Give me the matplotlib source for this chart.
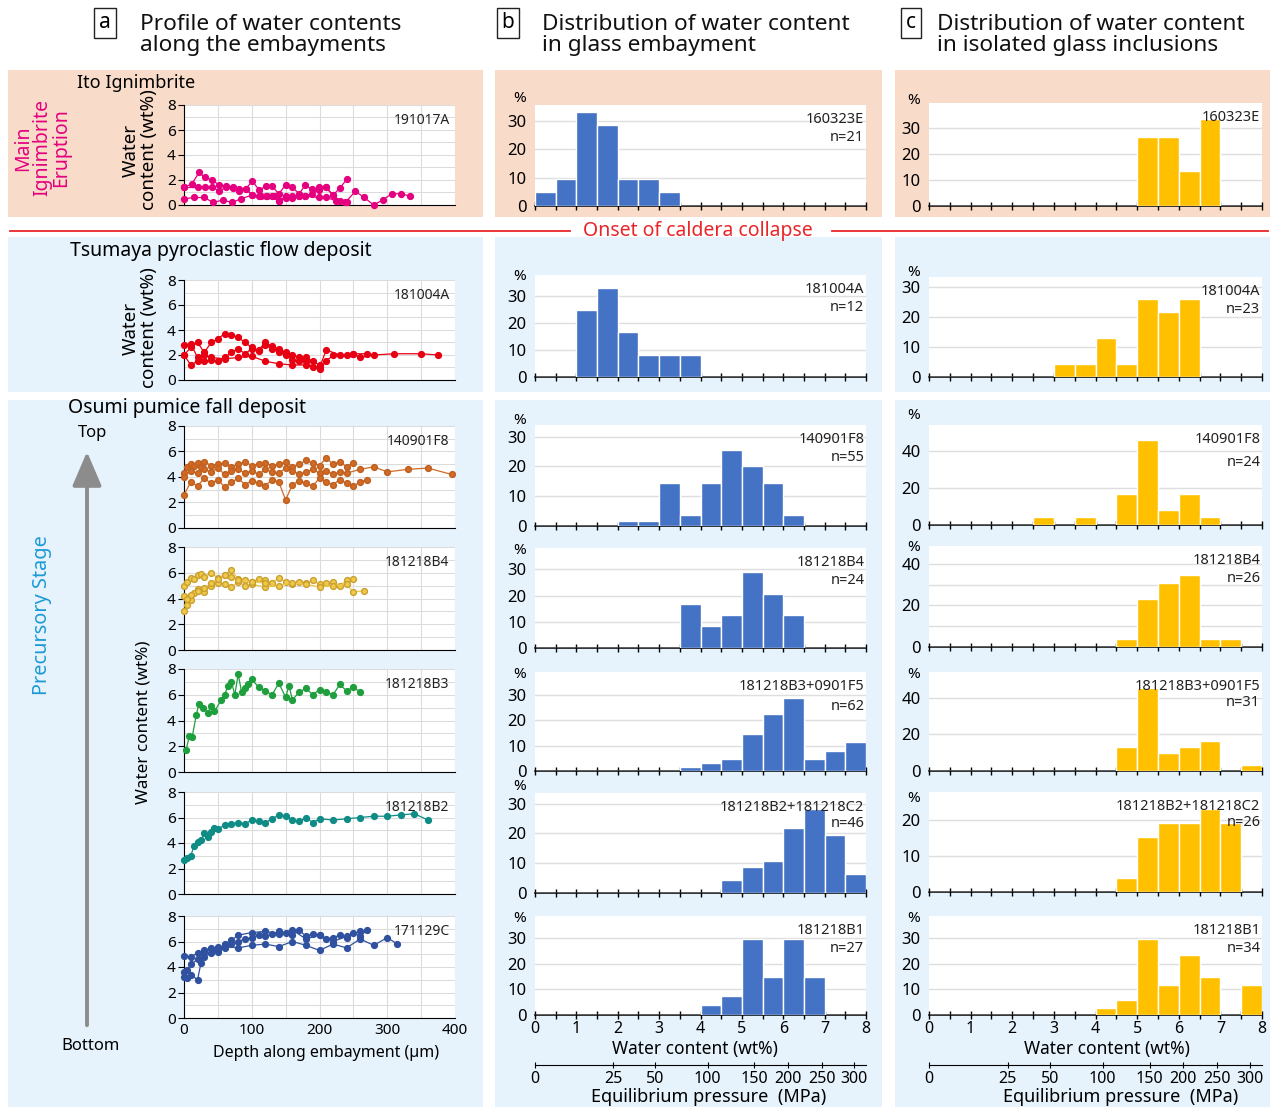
import numpy as np
import matplotlib
matplotlib.use('Agg')
import matplotlib.pyplot as plt
from matplotlib.patches import Rectangle, FancyArrowPatch

plt.rcParams['font.family'] = ['Noto Sans', 'DejaVu Sans']

# ---------------- DATA ----------------
bin_left = np.arange(0, 8, 0.5)  # 16 histogram bins of 0.5 wt%

# column b : glass embayments (%)
emb_160323E = [4.8, 9.5, 33.3, 28.6, 9.5, 9.5, 4.8, 0, 0, 0, 0, 0, 0, 0, 0, 0]
emb_181004A = [0, 0, 25.0, 33.3, 16.7, 8.3, 8.3, 8.3, 0, 0, 0, 0, 0, 0, 0, 0]
emb_140901F8 = [0, 0, 0, 0, 1.8, 1.8, 14.5, 3.6, 14.5, 25.5, 20.0, 14.5, 3.6, 0, 0, 0]
emb_181218B4 = [0, 0, 0, 0, 0, 0, 0, 16.7, 8.3, 12.5, 29.2, 20.8, 12.5, 0, 0, 0]
emb_181218B3 = [0, 0, 0, 0, 0, 0, 0, 1.6, 3.2, 4.8, 14.5, 22.6, 29.0, 4.8, 8.1, 11.3]
emb_181218B2 = [0, 0, 0, 0, 0, 0, 0, 0, 0, 4.3, 8.7, 10.9, 21.7, 28.3, 19.6, 6.5]
emb_181218B1 = [0, 0, 0, 0, 0, 0, 0, 0, 3.7, 7.4, 29.6, 14.8, 29.6, 14.8, 0, 0]

# column c : isolated glass inclusions (%)
inc_160323E = [0, 0, 0, 0, 0, 0, 0, 0, 0, 0, 26.7, 26.7, 13.3, 33.3, 0, 0]
inc_181004A = [0, 0, 0, 0, 0, 0, 4.3, 4.3, 13.0, 4.3, 26.1, 21.7, 26.1, 0, 0, 0]
inc_140901F8 = [0, 0, 0, 0, 0, 4.2, 0, 4.2, 0, 16.7, 45.8, 8.3, 16.7, 4.2, 0, 0]
inc_181218B4 = [0, 0, 0, 0, 0, 0, 0, 0, 0, 3.8, 23.1, 30.8, 34.6, 3.8, 3.8, 0]
inc_181218B3 = [0, 0, 0, 0, 0, 0, 0, 0, 0, 12.9, 45.2, 9.7, 12.9, 16.1, 0, 3.2]
inc_181218B2 = [0, 0, 0, 0, 0, 0, 0, 0, 0, 3.8, 15.4, 19.2, 19.2, 23.1, 19.2, 0]
inc_181218B1 = [0, 0, 0, 0, 0, 0, 0, 0, 2.9, 5.9, 29.4, 11.8, 23.5, 14.7, 0, 11.8]

emb_labels = ["160323E\nn=21", "181004A\nn=12", "140901F8\nn=55", "181218B4\nn=24",
              "181218B3+0901F5\nn=62", "181218B2+181218C2\nn=46", "181218B1\nn=27"]
inc_labels = ["160323E", "181004A\nn=23", "140901F8\nn=24", "181218B4\nn=26",
              "181218B3+0901F5\nn=31", "181218B2+181218C2\nn=26", "181218B1\nn=34"]

# pressure axis (MPa) and positions on the wt% scale
pressure_labels = ["0", "25", "50", "100", "150", "200", "250", "300"]
pressure_pos_wt = [0, 1.89, 2.90, 4.17, 5.30, 6.11, 6.93, 7.72]

# column a : water profiles (depth um, water wt%)
p191017A = [
    ([0, 12, 22, 31, 41, 52, 62, 72, 81, 91, 101, 111, 121, 130, 140, 150, 160, 170, 179, 189, 199, 209, 220, 230, 241],
     [1.4, 1.7, 2.6, 2.2, 2.0, 1.6, 1.5, 1.4, 1.3, 1.3, 1.9, 1.2, 1.5, 1.5, 0.9, 1.6, 1.4, 0.9, 1.6, 1.25, 1.4, 1.4, 0.8, 1.35, 2.1]),
    ([0, 21, 31, 41, 52, 62, 72, 81, 91, 101, 111, 121, 130, 140, 150, 160, 170, 179, 189, 199, 209, 220, 230, 241],
     [1.4, 1.4, 1.4, 1.4, 1.15, 1.4, 1.35, 1.1, 1.3, 0.8, 0.7, 0.75, 0.7, 0.35, 0.7, 0.7, 0.7, 0.75, 0.9, 1.2, 1.45, 0.8, 0.35, 0.2]),
    ([0, 15, 30, 43, 57, 71, 84, 101, 113, 123, 133, 140, 150, 160, 170, 179, 199, 210, 224, 238, 253, 266, 280, 293, 307, 321, 334],
     [0.5, 0.6, 0.6, 0.2, 0.4, 0.2, 0.5, 0.8, 0.7, 0.7, 0.7, 0.3, 0.55, 0.55, 0.7, 0.7, 0.6, 0.6, 0.35, 0.2, 1.1, 0.6, 0.0, 0.4, 0.9, 0.9, 0.7]),
]
p181004A = [
    ([0, 10, 20, 30, 40, 50, 60, 70, 80, 90, 100, 110, 120, 130, 140, 150, 160, 170, 180, 190, 200],
     [2.0, 2.6, 3.0, 2.2, 3.0, 3.3, 3.7, 3.6, 3.4, 3.0, 2.6, 2.3, 2.8, 2.5, 2.2, 2.0, 1.6, 1.5, 1.8, 1.5, 1.2]),
    ([0, 10, 20, 30, 40, 50, 60, 70, 80, 90, 100, 110, 120, 130, 140, 150, 160, 170, 180, 190, 200, 210, 230, 250, 260, 280, 310, 350, 375],
     [2.8, 2.9, 1.8, 1.5, 1.6, 1.5, 1.8, 2.2, 2.5, 2.1, 2.5, 2.4, 3.0, 2.7, 2.5, 2.2, 2.0, 1.8, 1.5, 1.0, 1.0, 2.4, 2.0, 2.1, 1.8, 2.0, 2.1, 2.1, 2.0]),
    ([0, 10, 20, 30, 40, 60, 80, 100, 120, 140, 160, 180, 200, 210, 220, 240, 250, 270],
     [2.0, 1.2, 1.5, 2.0, 1.8, 1.7, 1.8, 1.9, 1.5, 1.3, 1.2, 1.2, 0.9, 1.5, 2.0, 2.0, 2.1, 2.1]),
]
p140901F8 = [
    ([0, 5, 10, 15, 20, 25, 30, 40, 50, 60, 70, 80, 90, 100, 110, 120, 130, 140, 150, 160, 170, 180, 190, 200, 210, 220, 230, 240, 250],
     [4.3, 4.8, 5.0, 4.9, 5.1, 4.8, 5.2, 4.9, 5.0, 5.1, 4.8, 5.0, 5.2, 4.9, 5.0, 5.1, 4.9, 5.0, 5.2, 4.8, 5.0, 5.3, 5.1, 4.9, 5.5, 5.0, 5.2, 4.8, 5.1]),
    ([0, 10, 20, 30, 40, 50, 60, 70, 80, 90, 100, 110, 120, 130, 140, 150, 160, 170, 180, 190, 200, 210, 220, 230, 240, 260, 280, 300, 330, 360, 395],
     [4.0, 4.5, 4.3, 4.6, 4.4, 4.7, 4.2, 4.5, 4.6, 4.3, 4.5, 4.2, 4.6, 4.4, 4.3, 4.7, 4.5, 4.2, 4.4, 4.6, 4.3, 4.5, 4.2, 4.4, 4.3, 4.6, 4.8, 4.4, 4.6, 4.7, 4.2]),
    ([0, 10, 20, 30, 40, 50, 60, 70, 80, 90, 100, 110, 120, 130, 140, 150, 160, 170, 180, 190, 200, 210, 220, 230, 240, 250, 260, 270],
     [2.6, 3.6, 3.3, 3.9, 3.5, 3.8, 3.2, 3.6, 3.9, 3.4, 3.7, 3.5, 3.3, 3.8, 3.6, 2.2, 3.4, 3.7, 3.5, 3.3, 3.9, 3.6, 3.4, 3.8, 3.5, 3.3, 3.6, 3.8]),
]
p181218B4 = [
    ([0, 5, 10, 15, 20, 25, 30, 40, 50, 60, 70, 80, 90, 100, 110, 120, 130, 140, 150, 160, 170, 180, 190, 200, 210, 220, 230, 240, 250],
     [5.0, 5.3, 5.6, 5.5, 5.8, 5.9, 5.7, 6.0, 5.6, 5.8, 6.2, 5.5, 5.4, 5.3, 5.5, 5.4, 5.2, 5.6, 5.3, 5.1, 5.3, 5.2, 5.4, 5.1, 5.2, 5.3, 5.0, 5.4, 5.5]),
    ([0, 5, 10, 15, 20, 30, 40, 50, 60, 70, 80, 90, 100, 120, 140, 160, 180, 200, 220, 240, 250, 265],
     [3.0, 3.5, 3.9, 4.4, 4.7, 4.5, 5.0, 5.2, 5.1, 4.9, 5.3, 5.0, 5.1, 4.9, 5.0, 5.2, 5.1, 4.9, 5.0, 5.1, 4.5, 4.6]),
    ([0, 5, 10, 20, 30, 40, 50, 60, 70, 80, 100, 120],
     [4.2, 4.0, 4.3, 4.6, 4.8, 5.2, 5.5, 5.8, 5.7, 5.4, 5.3, 5.2]),
]
p181218B3 = [
    ([3, 8, 12, 18, 22, 28, 35, 40, 45, 55, 60, 65, 70, 75, 80, 85, 90, 95, 100, 110, 120, 130, 140, 150, 155, 160, 170, 180, 190, 200, 210, 220, 230, 240, 250, 260],
     [1.7, 2.8, 2.7, 4.4, 5.3, 5.0, 4.6, 5.1, 4.7, 5.6, 6.0, 6.7, 7.0, 6.0, 7.6, 6.2, 6.5, 6.8, 7.2, 6.6, 6.3, 6.0, 6.9, 5.8, 6.7, 5.6, 6.2, 6.5, 6.0, 6.4, 6.2, 6.0, 6.8, 6.3, 6.6, 6.2]),
]
p181218B2 = [
    ([0, 5, 10, 15, 20, 25, 30, 35, 40, 45, 50, 60, 70, 80, 90, 100, 110, 120, 130, 140, 150, 160, 170, 180, 190, 200, 220, 240, 260, 280, 300, 320, 340, 360],
     [2.7, 2.8, 3.0, 3.8, 4.1, 4.2, 4.8, 4.5, 4.9, 5.2, 5.1, 5.4, 5.5, 5.6, 5.5, 5.8, 5.7, 5.6, 5.9, 6.2, 6.1, 5.8, 5.7, 6.0, 5.6, 5.9, 5.8, 5.9, 6.0, 6.1, 6.1, 6.2, 6.3, 5.8]),
]
p171129C = [
    ([0, 5, 10, 20, 30, 40, 50, 60, 70, 80, 90, 100, 110, 120, 130, 140, 150, 160, 170, 180, 190, 200, 210, 220, 230, 240, 250, 260, 270],
     [3.2, 3.8, 4.2, 4.6, 5.2, 5.4, 5.6, 5.5, 5.8, 6.0, 6.2, 6.3, 6.5, 6.4, 6.6, 6.8, 6.7, 6.5, 6.9, 6.4, 6.6, 6.5, 6.2, 6.3, 6.5, 6.3, 6.7, 6.4, 6.9]),
    ([0, 10, 20, 30, 40, 50, 60, 80, 100, 120, 140, 160, 180, 200, 220, 240, 260, 280, 300, 315],
     [4.9, 4.8, 5.1, 5.3, 5.5, 5.2, 5.6, 5.5, 5.7, 5.8, 5.6, 6.0, 5.7, 5.3, 5.8, 5.5, 6.2, 5.7, 6.3, 5.8]),
    ([0, 5, 10, 20, 25, 30, 40, 50, 60, 70, 80, 100, 120, 140, 160, 180, 200, 220, 240, 260],
     [3.6, 3.1, 3.4, 3.0, 4.3, 4.8, 5.1, 5.3, 5.8, 6.1, 6.5, 6.7, 6.8, 6.6, 6.9, 6.2, 6.5, 6.0, 6.4, 6.8]),
]

# ---------------- LAYOUT ----------------
W, H = 1270, 1107
fig = plt.figure(figsize=(W / 100, H / 100), dpi=100)

def rect(x0, y0, x1, y1):
    return [x0 / W, 1 - y1 / H, (x1 - x0) / W, (y1 - y0) / H]

def bg(x0, y0, x1, y1, color):
    fig.patches.append(Rectangle((x0 / W, 1 - y1 / H), (x1 - x0) / W, (y1 - y0) / H,
                                 transform=fig.transFigure, facecolor=color,
                                 edgecolor='none', zorder=-10))

def ftext(x, y, s, **kw):
    return fig.text(x / W, 1 - y / H, s, **kw)

PEACH = '#f9dbc9'
LBLUE = '#e6f3fc'
for (x0, x1) in [(8, 483), (495, 882), (895, 1270)]:
    bg(x0, 70, x1, 217, PEACH)
    bg(x0, 237, x1, 392, LBLUE)
    bg(x0, 400, x1, 1107, LBLUE)

# headers
hdr = dict(fontsize=16.3, va='center', ha='left', color='#111111', linespacing=1.0)
for (bx, tx, letter, txt) in [(105, 140, 'a', 'Profile of water contents\nalong the embayments'),
                              (508, 542, 'b', 'Distribution of water content\nin glass embayment'),
                              (911, 937, 'c', 'Distribution of water content\nin isolated glass inclusions')]:
    ftext(bx, 23, letter, fontsize=15, ha='center', va='center',
          bbox=dict(boxstyle='square,pad=0.22', facecolor='white', edgecolor='#222222', linewidth=1))
    ftext(tx, 35, txt, **hdr)

# red separator line
fig.add_artist(plt.Line2D([10 / W, 570 / W], [1 - 231 / H] * 2, transform=fig.transFigure, color='#e8262a', lw=1.3))
fig.add_artist(plt.Line2D([832 / W, 1268 / W], [1 - 231 / H] * 2, transform=fig.transFigure, color='#e8262a', lw=1.3))
ftext(698, 231, 'Onset of caldera collapse', fontsize=14, color='#e8262a', ha='center', va='center')

# ---------------- COLUMN a ----------------
a_rows = [(105, 205), (280, 380), (426, 528), (547, 650), (669, 772), (792, 894), (916, 1018)]
a_data = [p191017A, p181004A, p140901F8, p181218B4, p181218B3, p181218B2, p171129C]
a_names = ['191017A', '181004A', '140901F8', '181218B4', '181218B3', '181218B2', '171129C']
a_colors = ['#e4007f', '#e60012', '#d06a27', '#f0c94a', '#1e9e3c', '#0f8c85', '#2f51a0']
a_edges = ['#e4007f', '#e60012', '#c0601f', '#c9a030', '#1e9e3c', '#0f8c85', '#2f51a0']

for i, ((y0, y1), dat, name, col, ec) in enumerate(zip(a_rows, a_data, a_names, a_colors, a_edges)):
    ax = fig.add_axes(rect(184, y0, 455, y1))
    ax.set_facecolor('white')
    for d, w in dat:
        ax.plot(d, w, '-o', color=col, mec=ec, mfc=col, ms=4.2, lw=0.9, clip_on=False, zorder=3)
    ax.set_xlim(0, 400)
    ax.set_ylim(0, 8)
    ax.set_yticks([0, 2, 4, 6, 8])
    ax.set_xticks(np.arange(0, 401, 50), minor=False)
    ax.set_yticks(np.arange(0, 9, 1), minor=True)
    ax.grid(True, which='both', color='#dcdcdc', lw=0.8)
    ax.set_axisbelow(True)
    for s in ['top', 'right']:
        ax.spines[s].set_visible(False)
    ax.spines['left'].set_color('black')
    ax.spines['bottom'].set_color('black')
    ax.tick_params(axis='y', which='major', length=4, labelsize=11, pad=2)
    ax.tick_params(axis='y', which='minor', length=0)
    ax.tick_params(axis='x', length=0)
    if i == 6:
        ax.set_xticks([0, 100, 200, 300, 400])
        ax.set_xticks(np.arange(0, 401, 50), minor=True)
        ax.tick_params(axis='x', which='both', length=0, labelsize=11)
        ax.grid(True, which='both', color='#dcdcdc', lw=0.8)
    else:
        ax.set_xticklabels([])
    ax.text(0.98, 0.92, name, transform=ax.transAxes, ha='right', va='top', fontsize=10, color='#222222')

ftext(77, 83, 'Ito Ignimbrite', fontsize=13, ha='left', va='center')
ftext(42, 148, 'Main\nIgnimbrite\nEruption', fontsize=14, color='#e4007f', rotation=90,
      ha='center', va='center', linespacing=0.95)
ftext(140, 150, 'Water\ncontent (wt%)', fontsize=13.5, rotation=90, ha='center', va='center', linespacing=1.0)
ftext(70, 251, 'Tsumaya pyroclastic flow deposit', fontsize=14, ha='left', va='center')
ftext(140, 328, 'Water\ncontent (wt%)', fontsize=13.5, rotation=90, ha='center', va='center', linespacing=1.0)
ftext(68, 408, 'Osumi pumice fall deposit', fontsize=14, ha='left', va='center')
ftext(92, 433, 'Top', fontsize=12, ha='center', va='center')
ftext(91, 1046, 'Bottom', fontsize=12, ha='center', va='center')
ftext(42, 615, 'Precursory Stage', fontsize=14.3, color='#1c9ad6', rotation=90, ha='center', va='center')
ftext(144, 722, 'Water content (wt%)', fontsize=12.3, rotation=90, ha='center', va='center')
ftext(326, 1053, 'Depth along embayment (µm)', fontsize=11.5, ha='center', va='center')
fig.add_artist(FancyArrowPatch((87 / W, 1 - 1028 / H), (87 / W, 1 - 449 / H),
               transform=fig.transFigure, arrowstyle='-|>,head_length=14,head_width=6',
               color='#8c8c8c', lw=2.8, mutation_scale=1.5))

# ---------------- COLUMNS b, c ----------------
b_rows = [(105, 206), (275, 377), (425, 526), (548, 648), (672, 771), (793, 893), (916, 1015)]
c_rows = [(103, 206), (277, 377), (425, 525), (546, 647), (672, 771), (792, 892), (916, 1015)]
b_pct_y = [99, 276, 420, 550, 675, 786, 919]
c_pct_y = [100, 272, 415, 547, 675, 799, 919]
b_ylim = [35.6, 38.0, 33.9, 38.2, 39.2, 33.6, 38.5]
c_ylim = [39.6, 33.5, 53.8, 48.5, 53.9, 27.8, 38.5]
c_ticks = [[0, 10, 20, 30], [0, 10, 20, 30], [0, 20, 40], [0, 20, 40], [0, 20, 40], [0, 10, 20], [0, 10, 20, 30]]
c_grid = [[10, 20, 30], [10, 20, 30], [20, 40], [10, 20, 30, 40], [20, 40], [10, 20], [10, 20, 30]]
c_lsp = [1.25, 1.25, 1.75, 1.25, 1.1, 1.1, 1.25]
b_lsp = [1.25, 1.25, 1.25, 1.25, 1.5, 1.1, 1.25]
emb_all = [emb_160323E, emb_181004A, emb_140901F8, emb_181218B4, emb_181218B3, emb_181218B2, emb_181218B1]
inc_all = [inc_160323E, inc_181004A, inc_140901F8, inc_181218B4, inc_181218B3, inc_181218B2, inc_181218B1]

def hist_axes(x0, x1, y0, y1, vals, ylim, ticks, grid, color, label, lsp, pct_y, last):
    ax = fig.add_axes(rect(x0, y0, x1, y1))
    ax.set_facecolor('white')
    ax.bar(bin_left, vals, width=0.5, align='edge', color=color, edgecolor='white', linewidth=1.0, zorder=3)
    ax.set_xlim(0, 8)
    ax.set_ylim(0, ylim)
    for g in grid:
        ax.axhline(g, color='#dedede', lw=1.0, zorder=1)
    ax.set_yticks(ticks)
    ax.tick_params(axis='y', length=0, labelsize=12, pad=6)
    ax.set_xticks(np.arange(0, 8.01, 0.5))
    ax.tick_params(axis='x', direction='inout', length=6, width=1, labelsize=11.5, pad=1.5)
    if last:
        ax.set_xticklabels([str(int(v)) if v == int(v) else '' for v in np.arange(0, 8.01, 0.5)])
    else:
        ax.set_xticklabels([])
    for s in ['top', 'right', 'left']:
        ax.spines[s].set_visible(False)
    ax.spines['bottom'].set_linewidth(1.1)
    ax.text(0.995, 0.93, label, transform=ax.transAxes, ha='right', va='top', fontsize=10.5,
            color='#222222', linespacing=lsp, zorder=5)
    ftext(x0 - 15, pct_y, '%', ha='center', va='center', fontsize=11)
    return ax

for i in range(7):
    hist_axes(535, 866, b_rows[i][0], b_rows[i][1], emb_all[i], b_ylim[i], [0, 10, 20, 30],
              [10, 20, 30], '#4472c4', emb_labels[i], b_lsp[i], b_pct_y[i], i == 6)
    hist_axes(929, 1262, c_rows[i][0], c_rows[i][1], inc_all[i], c_ylim[i], c_ticks[i],
              c_grid[i], '#ffc000', inc_labels[i], c_lsp[i], c_pct_y[i], i == 6)

# bottom axis labels & pressure axes
for (x0, x1, cx) in [(535, 866, 695), (929, 1262, 1107)]:
    ftext(cx, 1049, 'Water content (wt%)', fontsize=12.5, ha='center', va='center')
    pax = fig.add_axes(rect(x0, 1064, x1, 1065))
    pax.set_xlim(0, 8)
    pax.set_yticks([])
    for s in ['top', 'right', 'left']:
        pax.spines[s].set_visible(False)
    pax.patch.set_alpha(0)
    pax.set_xticks(pressure_pos_wt)
    pax.set_xticklabels(pressure_labels)
    pax.tick_params(axis='x', direction='inout', length=5, labelsize=11.5, pad=2)
    ftext(cx + 14, 1097, 'Equilibrium pressure  (MPa)', fontsize=13, ha='center', va='center')

fig.savefig('out.png', dpi=100)
